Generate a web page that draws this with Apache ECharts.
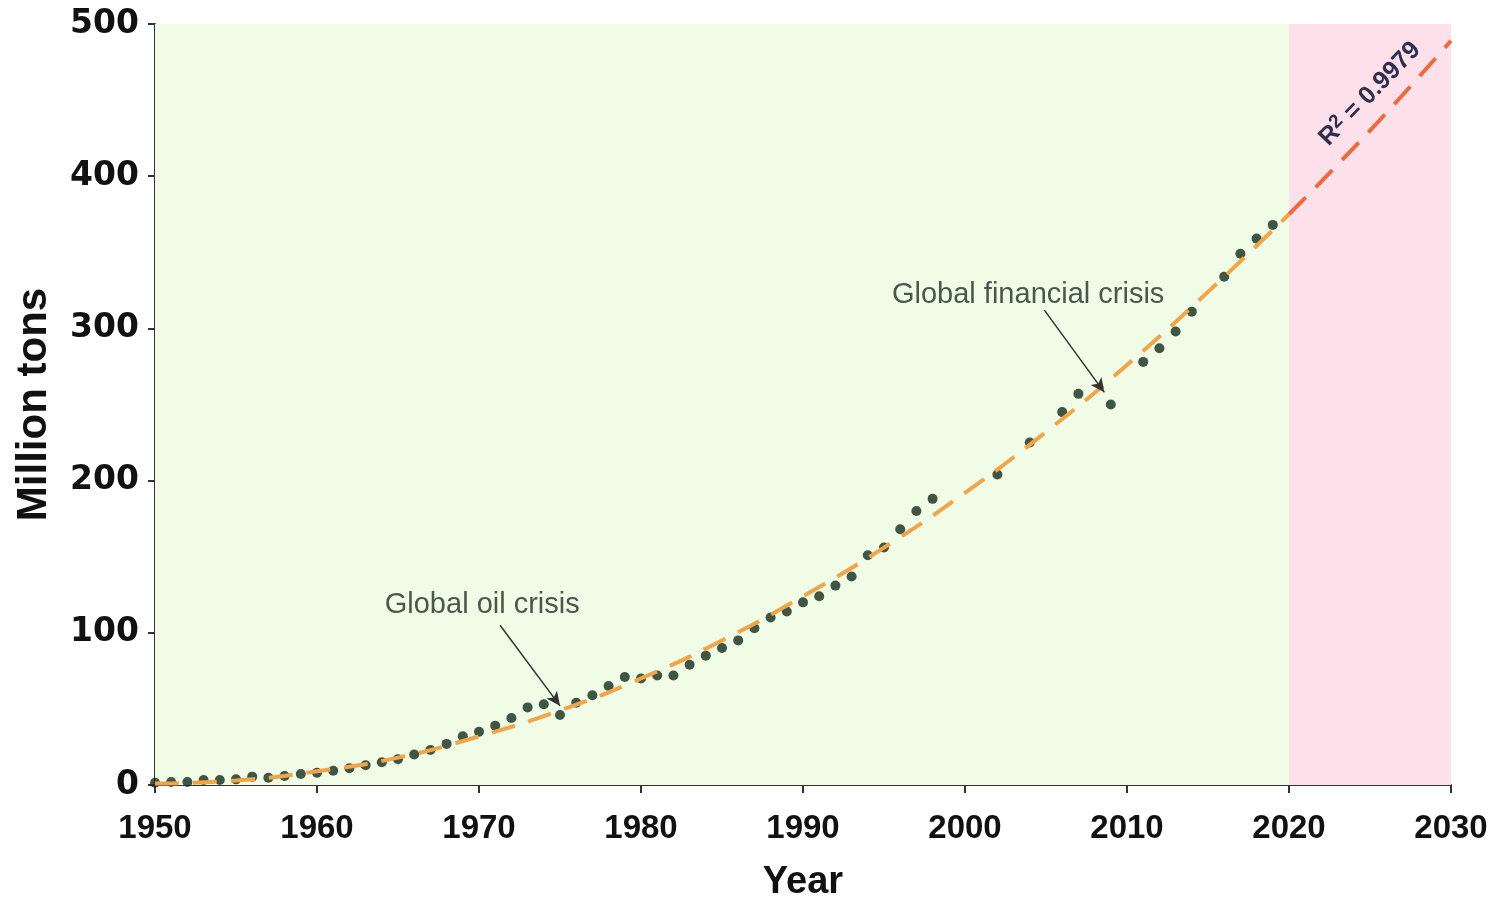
<!DOCTYPE html>
<html>
<head>
	<meta charset="utf-8" />
	<script src="https://cdn.jsdelivr.net/npm/echarts@6/dist/echarts.min.js"></script>
	<title>Plastic production</title>
	<style>
		html, body { margin: 0; padding: 0; background: #fff; }
		#c { width: 1493px; height: 900px; }
	</style>
</head>
<body>
	<div id="c"></div>
	<script>
		// observed production, million tons
		var years = [1950, 1951, 1952, 1953, 1954, 1955, 1956, 1957, 1958, 1959,
			1960, 1961, 1962, 1963, 1964, 1965, 1966, 1967, 1968, 1969,
			1970, 1971, 1972, 1973, 1974, 1975, 1976, 1977, 1978, 1979,
			1980, 1981, 1982, 1983, 1984, 1985, 1986, 1987, 1988, 1989,
			1990, 1991, 1992, 1993, 1994, 1995, 1996, 1997, 1998,
			2002, 2004, 2006, 2007, 2009, 2011, 2012, 2013, 2014, 2016, 2017, 2018, 2019];
		var tons = [1.5, 2, 2, 3.3, 3.3, 3.7, 5.5, 4.8, 5.9, 7.2,
			8.1, 9.4, 11, 13, 15, 17, 20, 23, 27, 32,
			35, 39, 44, 51, 53, 46, 54, 59, 65, 71,
			70, 72, 72, 79, 85, 90, 95, 103, 110, 114,
			120, 124, 131, 137, 151, 156, 168, 180, 188,
			204, 225, 245, 257, 250, 278, 287, 298, 311, 334, 349, 359, 368];

		// fitted trend
		var trendYears = [1950, 1955, 1960, 1965, 1970, 1975, 1980, 1985, 1990,
			1995, 2000, 2005, 2010, 2015, 2020];
		var trendTons = [1, 3, 9, 18, 32, 49, 70, 95, 124,
			156, 192, 232, 276, 324, 375];
		// projection part of the same curve
		var projYears = [2020, 2025, 2030];
		var projTons = [375, 430, 489];

		var xTicks = [1950, 1960, 1970, 1980, 1990, 2000, 2010, 2020, 2030];
		var forecastStart = 2020;
		var r2Text = '0.9979';

		var myChart = echarts.init(document.getElementById('c'));

		function pairs(xs, ys) {
			var out = [];
			for (var i = 0; i < xs.length; i++) {
				out.push([xs[i], ys[i]]);
			}
			return out;
		}

		var font = 'Liberation Sans, Arial, sans-serif';

		var option = {
			animation: false,
			grid: { left: 155, right: 42, top: 24, bottom: 115, outerBoundsMode: 'none' },
			xAxis: {
				type: 'value',
				min: xTicks[0],
				max: xTicks[xTicks.length - 1],
				interval: 10,
				name: 'Year',
				nameLocation: 'middle',
				nameGap: 79,
				nameTextStyle: { fontFamily: font, fontWeight: 'bold', fontSize: 38, color: '#111' },
				axisLine: { lineStyle: { color: '#333', width: 2 } },
				axisTick: { length: 8, lineStyle: { color: '#333', width: 2 } },
				axisLabel: {
					fontFamily: font, fontWeight: 'bold', fontSize: 33, color: '#111', margin: 27,
					formatter: function (v) { return String(v); }
				},
				splitLine: { show: false }
			},
			yAxis: {
				type: 'value',
				min: 0,
				max: 500,
				interval: 100,
				name: 'Million tons',
				nameLocation: 'middle',
				nameRotate: 90,
				nameGap: 100,
				nameTextStyle: { fontFamily: font, fontWeight: 'bold', fontSize: 42, color: '#111' },
				axisLine: { show: true, lineStyle: { color: '#333', width: 2 } },
				axisTick: { show: true, length: 7, lineStyle: { color: '#333', width: 2 } },
				axisLabel: { fontFamily: 'DejaVu Sans', fontWeight: 'bold', fontSize: 33, color: '#111', margin: 16 },
				splitLine: { show: false }
			},
			series: [
				{
					type: 'scatter',
					data: pairs(years, tons),
					symbolSize: 10,
					itemStyle: { color: '#142c1d' },
					z: 3,
					markArea: {
						silent: true,
						data: [
							[{ coord: [xTicks[0], 0], itemStyle: { color: '#f0fce6' } }, { coord: [forecastStart, 500] }],
							[{ coord: [forecastStart, 0], itemStyle: { color: '#fde0ea' } }, { coord: [xTicks[xTicks.length - 1], 500] }]
						]
					},
					markLine: {
						silent: true,
						symbol: ['none', 'arrow'],
						symbolSize: [10, 14],
						label: { show: false },
						lineStyle: { color: '#333', width: 1.5, type: 'solid' },
						data: [
							[{ coord: [1971.3, 105] }, { coord: [1975, 52] }],
							[{ coord: [2004.9, 312] }, { coord: [2008.6, 258] }]
						]
					},
					markPoint: {
						silent: true,
						symbol: 'circle',
						symbolSize: 1,
						itemStyle: { color: 'rgba(0,0,0,0)' },
						data: [
							{
								coord: [1970.2, 118],
								label: { show: true, position: 'inside', formatter: 'Global oil crisis', fontFamily: font, fontSize: 29, color: '#4a574c' }
							},
							{
								coord: [2003.9, 322],
								label: { show: true, position: 'inside', formatter: 'Global financial crisis', fontFamily: font, fontSize: 29, color: '#4a574c' }
							},
							{
								coord: [2025.0, 454],
								label: {
									show: true,
									position: 'inside',
									rotate: 46,
									formatter: '{a|R}{b|2}{a| = ' + r2Text + '}',
									rich: {
										a: { fontFamily: font, fontSize: 25, fontWeight: 'bold', color: '#2e2f4d' },
										b: { fontFamily: font, fontSize: 19, fontWeight: 'bold', color: '#2e2f4d', verticalAlign: 'top', padding: [0, 0, 10, 0] }
									}
								}
							}
						]
					}
				},
				{
					type: 'line',
					data: pairs(trendYears, trendTons),
					smooth: true,
					showSymbol: false,
					z: 4,
					lineStyle: { width: 4, color: '#f2a548', type: [24, 14] }
				},
				{
					type: 'line',
					data: pairs(projYears, projTons),
					smooth: true,
					showSymbol: false,
					z: 4,
					lineStyle: { width: 4, color: '#ee6a3c', type: [24, 14] }
				}
			]
		};
		myChart.setOption(option);
	</script>
</body>
</html>
